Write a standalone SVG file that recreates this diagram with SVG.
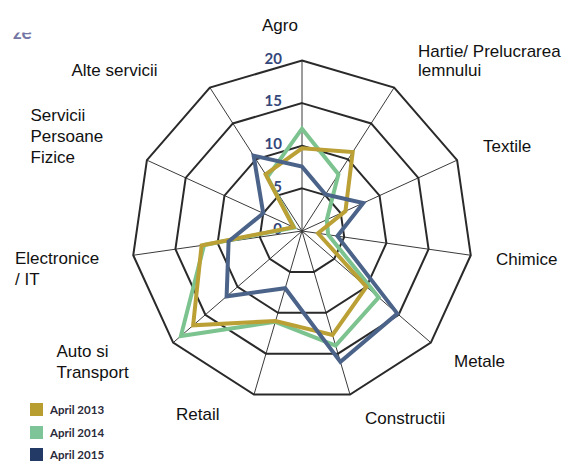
<svg xmlns="http://www.w3.org/2000/svg" width="586" height="462" viewBox="0 0 586 462">
<style>
.ring{fill:none;stroke:#2a2a2a;stroke-width:2;stroke-linejoin:miter}
.spoke{stroke:#3a3a3a;stroke-width:1}
.lbl{font-family:"Liberation Sans",Arial,sans-serif;font-size:17px;fill:#111}
.tick{font-family:Lato,"Open Sans",sans-serif;font-size:15px;font-weight:700;fill:#34477a;text-anchor:end}
.series{fill:none;stroke-width:4;stroke-linejoin:miter;stroke-miterlimit:10}
.leg{font-family:Lato,"Open Sans",sans-serif;font-size:11.5px;font-weight:700;fill:#2a2a3a}
</style>
<defs>
<clipPath id="zeclip"><rect x="0" y="32.5" width="60" height="10"/></clipPath>
</defs>
<rect width="586" height="462" fill="#fff"/>
<text x="13" y="38.5" clip-path="url(#zeclip)" style="font-family:Lato,sans-serif;font-size:19px;font-weight:700;fill:#7376a4">ze</text>
<g id="grid" transform="translate(302,231)">
<g class="spoke">
<line x1="0" y1="0" x2="0" y2="-170.5"/>
<line x1="0" y1="0" x2="92.17" y2="-143.44"/>
<line x1="0" y1="0" x2="155.09" y2="-70.83"/>
<line x1="0" y1="0" x2="168.76" y2="24.26"/>
<line x1="0" y1="0" x2="128.85" y2="111.66"/>
<line x1="0" y1="0" x2="48.03" y2="163.59"/>
<line x1="0" y1="0" x2="-48.03" y2="163.59"/>
<line x1="0" y1="0" x2="-128.85" y2="111.66"/>
<line x1="0" y1="0" x2="-168.76" y2="24.26"/>
<line x1="0" y1="0" x2="-155.09" y2="-70.83"/>
<line x1="0" y1="0" x2="-92.17" y2="-143.44"/>
</g>
<polygon class="ring" points="0,-42.63 23.04,-35.86 38.77,-17.71 42.19,6.07 32.21,27.92 12.01,40.9 -12.01,40.9 -32.21,27.92 -42.19,6.07 -38.77,-17.71 -23.04,-35.86"/>
<polygon class="ring" points="0,-85.25 46.09,-71.72 77.54,-35.41 84.38,12.13 64.42,55.83 24.01,81.8 -24.01,81.8 -64.42,55.83 -84.38,12.13 -77.54,-35.41 -46.09,-71.72"/>
<polygon class="ring" points="0,-127.88 69.13,-107.58 116.32,-53.12 126.57,18.2 96.64,83.75 36.02,122.7 -36.02,122.7 -96.64,83.75 -126.57,18.2 -116.32,-53.12 -69.13,-107.58"/>
<polygon class="ring" points="0,-170.5 92.17,-143.44 155.09,-70.83 168.76,24.26 128.85,111.66 48.03,163.59 -48.03,163.59 -128.85,111.66 -168.76,24.26 -155.09,-70.83 -92.17,-143.44"/>
</g>
<g id="ticks">
<text class="tick" x="282" y="64">20</text>
<text class="tick" x="282" y="106">15</text>
<text class="tick" x="282" y="149">10</text>
<text class="tick" x="282" y="191.5">5</text>
<text class="tick" x="282" y="234">0</text>
</g>
<g id="series" transform="translate(302,231)">
<polygon id="s2014" class="series" stroke="#7cc38f" points="0,-102.3 36.41,-56.66 24.81,-11.33 26.16,3.76 76.67,66.44 33.62,114.52 -26.66,90.8 -121.12,104.96 -97.88,14.07 -7.76,-3.54 -34.57,-53.79"/>
<polygon id="s2013" class="series" stroke="#bba035" points="0,-82.69 50.7,-78.9 43.42,-19.83 16.03,2.3 64.42,55.83 30.5,103.88 -26.42,89.98 -108.88,94.35 -100.41,14.44 -8.53,-3.9 -36.41,-56.66"/>
<polygon id="s2015" class="series" stroke="#4b6389" points="0,-64.36 23.5,-36.58 61.26,-27.98 35.44,5.1 95.35,82.63 38.42,130.88 -16.81,57.26 -75.37,65.32 -73.41,10.55 -38.78,-17.71 -48.39,-75.31"/>
</g>
<g id="labels">
<g id="agro"><text class="lbl" x="262" y="31">Agro</text></g>
<g id="hartie"><text class="lbl" x="418" y="57">Hartie/ Prelucrarea</text><text class="lbl" x="418" y="75.5">lemnului</text></g>
<g id="textile"><text class="lbl" x="483" y="152">Textile</text></g>
<g id="chimice"><text class="lbl" x="496" y="265">Chimice</text></g>
<g id="metale"><text class="lbl" x="454" y="367">Metale</text></g>
<g id="constructii"><text class="lbl" x="365" y="423.5">Constructii</text></g>
<g id="retail"><text class="lbl" x="176" y="419.5">Retail</text></g>
<g id="auto"><text class="lbl" x="56.5" y="357">Auto si</text><text class="lbl" x="56.5" y="378">Transport</text></g>
<g id="electronice"><text class="lbl" x="15" y="263.5">Electronice</text><text class="lbl" x="15" y="284.5">/ IT</text></g>
<g id="servicii"><text class="lbl" x="30.5" y="121">Servicii</text><text class="lbl" x="30.5" y="142">Persoane</text><text class="lbl" x="30.5" y="163">Fizice</text></g>
<g id="alte"><text class="lbl" x="71.5" y="76">Alte servicii</text></g>
</g>
<g id="legend">
<rect x="30" y="403" width="13" height="13" fill="#b89d30"/>
<text class="leg" x="50" y="413.5">April 2013</text>
<rect x="30" y="426" width="13" height="13" fill="#7dc499"/>
<text class="leg" x="50" y="436.5">April 2014</text>
<rect x="30" y="448" width="13" height="13" fill="#233a66"/>
<text class="leg" x="50" y="458.5">April 2015</text>
</g>
</svg>
